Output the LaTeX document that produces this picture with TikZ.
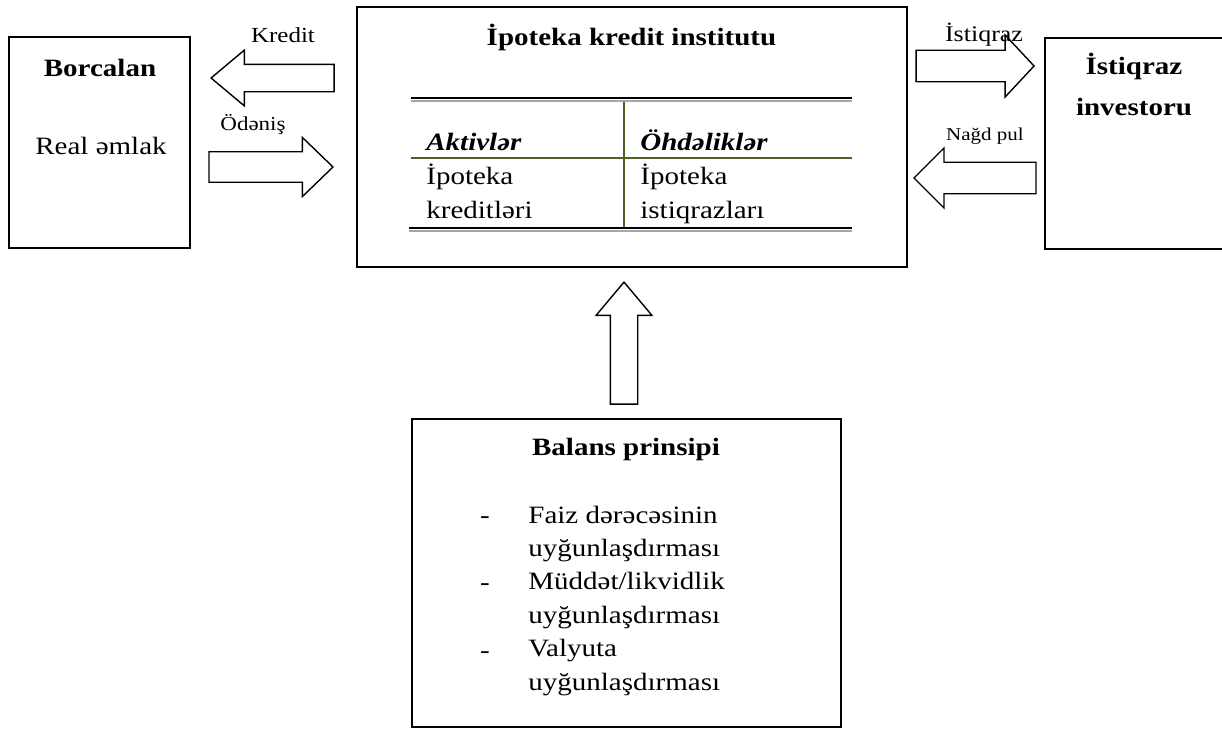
\documentclass[tikz,border=0pt]{standalone}
\usepackage{fontspec}
\setmainfont{Liberation Serif}
\usetikzlibrary{positioning, shapes.arrows}
\definecolor{tblgreen}{RGB}{79,98,40}
\tikzset{%
  box/.style={draw, line width=0.9pt, inner sep=0pt},
  blk/.style={single arrow, draw, line width=0.7pt, inner sep=0pt, inner ysep=7pt,
    minimum width=30pt, minimum height=61pt, single arrow tip angle=90, anchor=tip},
  blkn/.style={blk, inner ysep=6.5pt, minimum width=26pt, single arrow tip angle=80},
  txt/.style={inner sep=0pt, yscale=.86, anchor=base, font=\fontsize{14.5}{19.2}\selectfont},
  hd/.style={txt, font=\fontsize{14.5}{23.3}\selectfont\bfseries},
  lb/.style={txt, font=\fontsize{#1}{#1}\selectfont},
  trule/.style={line width=1.4pt},
  rshadow/.style={line width=0.9pt, black!35},
  tline/.style={line width=0.6pt, tblgreen}
}

\begin{document}
\begin{tikzpicture}[x=0.5pt, y=-0.5pt]
  \useasboundingbox (0,0) rectangle (1222,729);
  % boxes
  \node[box, minimum width=275pt, minimum height=130pt] (mid) at (632,137) {};
  \node[box, minimum width=90.5pt, minimum height=105.5pt] (borc) [left=82.5pt of mid, yshift=-2.75pt] {};
  \node[box, minimum width=91pt, minimum height=105.5pt] (inv) [right=68pt of mid, yshift=-3.25pt] {};
  \node[box, minimum width=214.5pt, minimum height=154pt] (bal) [below=75pt of mid, xshift=-2.75pt] {};
  % block arrows
  \node[blkn, shape border rotate=180, minimum height=61.5pt] (kr) at (210,78) {};
  \node[blk, minimum height=62pt, inner ysep=7.25pt, minimum width=29.5pt, single arrow tip angle=88] (od) at (334,167) {};
  \node[blk, minimum height=59pt, minimum width=31pt, single arrow tip angle=94] (ist) at (1035,66) {};
  \node[blk, shape border rotate=180, inner ysep=7.5pt] (nag) at (913,178) {};
  \node[blkn, shape border rotate=90, inner ysep=0pt, inner xsep=6.5pt] (up) at (624,281) {};
  % arrow labels
  \node[lb=12.5] (krl) at (283,42) {Kredit};
  \node[lb=11.5] (odl) at (253,130) {Ödəniş};
  \node[lb=13] (istl) at (984,41) {İstiqraz};
  \node[lb=10.5] (nagl) at (985,140) {Nağd pul};
  % box texts
  \node[hd] (borct) at (100,76) {Borcalan};
  \node[txt] (borcm) at (101,154) {Real əmlak};
  \node[hd] (midt) at (631.5,45) {İpoteka kredit institutu};
  \node[hd, align=center] (invt) at (1134,115) {İstiqraz\\investoru};
  \node[hd] (balt) at (626,455) {Balans prinsipi};
  % balance table
  \draw[trule] (411,98) -- (852,98);
  \draw[rshadow] (411,100.6) -- (852,100.6);
  \draw[tline] (411,158) -- (852,158);
  \draw[tline] (624,102) -- (624,228);
  \draw[trule] (409,228) -- (852,228);
  \draw[rshadow] (409,230.6) -- (852,230.6);
  \node[txt, anchor=base west, font=\fontsize{14.5}{19.2}\selectfont\bfseries\itshape] (akt) at (426,150) {Aktivlər};
  \node[txt, anchor=base west, font=\fontsize{14.5}{19.2}\selectfont\bfseries\itshape] (ohd) at (640,150) {Öhdəliklər};
  \node[txt, anchor=base west, align=left] (aktv) at (426,218) {İpoteka\\kreditləri};
  \node[txt, anchor=base west, align=left] (ohdv) at (640,218) {İpoteka\\istiqrazları};
  % principles
  \foreach \y in {523,590,658}
    \node[txt] (d\y) at (485,\y) {-};
  \node[txt, anchor=base west, align=left, font=\fontsize{14.5}{19.4}\selectfont] (balv) at (528,690)
    {Faiz dərəcəsinin\\uyğunlaşdırması\\Müddət/likvidlik\\uyğunlaşdırması\\Valyuta\\uyğunlaşdırması};
\end{tikzpicture}
\end{document}
